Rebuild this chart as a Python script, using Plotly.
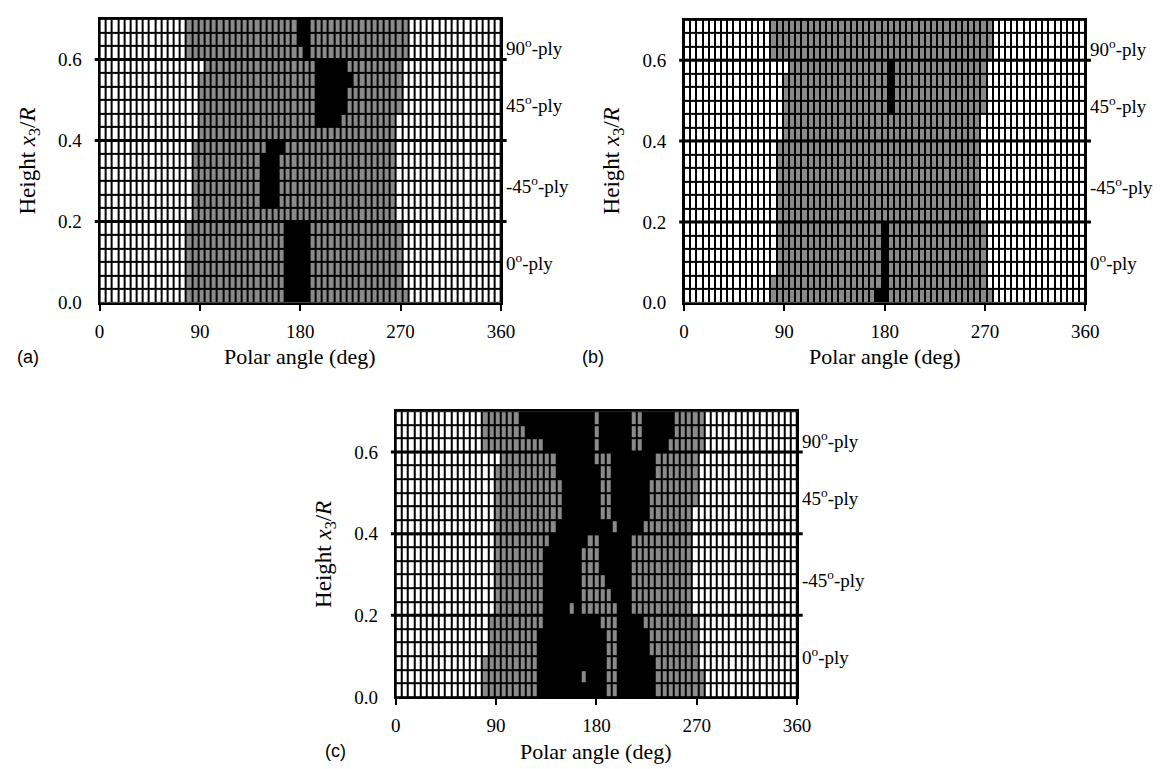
import plotly.graph_objects as go

W, H = 1173, 769

# ---------------- data ----------------
n_cols = 65            # circumferential elements (0..360 deg)
n_rows = 21            # through-thickness elements (0..0.7)
angle_ticks = [0, 90, 180, 270, 360]
height_ticks = [0.0, 0.2, 0.4, 0.6]
height_ticktext = ["0.0", "0.2", "0.4", "0.6"]
ply_bounds = [0.2, 0.4, 0.6]
ply_names = ["0<sup>o</sup>-ply", "-45<sup>o</sup>-ply", "45<sup>o</sup>-ply", "90<sup>o</sup>-ply"]
ply_label_y = [0.10, 0.29, 0.49, 0.63]
panel_tags = ["(a)", "(b)", "(c)"]

# per element row (bottom row 0 -> top row 20): gray span [first, last] element index
a_gray = [(14, 49), (14, 48), (14, 48), (14, 48), (14, 48), (14, 48),
          (15, 47), (15, 47), (15, 47), (15, 47), (15, 47), (15, 47),
          (16, 47), (16, 47), (16, 48), (16, 48), (16, 48), (17, 48),
          (14, 49), (14, 49), (14, 49)]
# black (failed) element runs per row
a_black = [[(30, 33)], [(30, 33)], [(30, 33)], [(30, 33)], [(30, 33)], [(30, 33)],
           [], [(26, 28)], [(26, 28)], [(26, 28)], [(26, 28)], [(27, 29)],
           [], [(35, 38)], [(35, 39)], [(35, 39)], [(35, 40)], [(35, 39)],
           [(33, 33)], [(32, 33)], [(32, 33)]]

b_gray = [(14, 49), (14, 48), (15, 48), (15, 48), (15, 48), (15, 48),
          (15, 47), (15, 47), (15, 47), (15, 47), (15, 47), (15, 47),
          (16, 47), (16, 47), (16, 48), (16, 48), (16, 48), (17, 48),
          (14, 49), (14, 49), (14, 49)]
b_black = [[(31, 32)], [(32, 32)], [(32, 32)], [(32, 32)], [(32, 32)], [(32, 32)],
           [], [], [], [], [], [],
           [], [], [(33, 33)], [(33, 33)], [(33, 33)], [(33, 33)],
           [], [], []]

c_gray = [(14, 49), (14, 49), (14, 48), (15, 48), (15, 48), (15, 48),
          (16, 47), (16, 47), (16, 47), (16, 47), (16, 47), (16, 47),
          (16, 47), (16, 47), (16, 48), (16, 48), (16, 48), (17, 48),
          (14, 49), (14, 49), (14, 49)]
c_black = [[(23, 33), (36, 41)],
           [(23, 29), (31, 33), (36, 41)],
           [(23, 33), (36, 41)],
           [(23, 33), (36, 40)],
           [(23, 33), (36, 40)],
           [(24, 32), (36, 39)],
           [(24, 27), (29, 29), (36, 37)],
           [(24, 29), (35, 37)],
           [(24, 29), (34, 37)],
           [(24, 29), (33, 37)],
           [(24, 29), (33, 37)],
           [(25, 30), (33, 37)],
           [(26, 34), (36, 39)],
           [(27, 32), (35, 40)],
           [(27, 32), (35, 40)],
           [(27, 32), (35, 40)],
           [(26, 32), (35, 41)],
           [(26, 31), (35, 41)],
           [(24, 31), (33, 37), (40, 43)],
           [(21, 31), (33, 37), (40, 44)],
           [(20, 31), (33, 37), (40, 44)]]

# ---------------- layout geometry (pixels) ----------------
panels = [
    dict(gray=a_gray, black=a_black, x0=88, x1=496, ytop=11, ybot=299, tag=(15, 354)),
    dict(gray=b_gray, black=b_black, x0=682, x1=1090, ytop=12, ybot=299, tag=(590, 354)),
    dict(gray=c_gray, black=c_black, x0=389, x1=797, ytop=409, ybot=699, tag=(328, 754)),
]

x_centers = [(c + 0.5) * 360.0 / n_cols for c in range(n_cols)]
y_centers = [(r + 0.5) * 0.7 / n_rows for r in range(n_rows)]

GRAY = "#8a8a8a"
cscale = [[0, "#ffffff"], [0.333, "#ffffff"], [0.334, GRAY], [0.666, GRAY],
          [0.667, "#000000"], [1, "#000000"]]

SERIF = "Liberation Serif"
fig = go.Figure()
annotations = []
shapes = []

for i, p in enumerate(panels):
    z = []
    for r in range(n_rows):
        row = [0] * n_cols
        g0, g1 = p["gray"][r]
        for c in range(g0, g1 + 1):
            row[c] = 1
        for (k0, k1) in p["black"][r]:
            for c in range(k0, k1 + 1):
                row[c] = 2
        z.append(row)
    sfx = "" if i == 0 else str(i + 1)
    fig.add_trace(go.Heatmap(
        z=z, x=x_centers, y=y_centers, zmin=0, zmax=2, colorscale=cscale,
        showscale=False, xgap=2, ygap=2, hoverinfo="skip",
        xaxis="x" + sfx, yaxis="y" + sfx))

    xd = [p["x0"] / W, p["x1"] / W]
    yd = [1 - p["ybot"] / H, 1 - p["ytop"] / H]
    fig.layout["xaxis" + sfx] = dict(
        domain=xd, range=[0, 360], anchor="y" + sfx,
        tickvals=angle_ticks, ticks="outside", ticklen=6, tickwidth=2, tickcolor="black",
        showline=True, linecolor="black", linewidth=2, mirror=True,
        showgrid=False, zeroline=False, ticklabelstandoff=4,
        tickfont=dict(family=SERIF, size=19, color="black"))
    fig.layout["yaxis" + sfx] = dict(
        domain=yd, range=[0, 0.7], anchor="x" + sfx,
        tickvals=height_ticks, ticktext=height_ticktext, ticks="",
        showline=True, linecolor="black", linewidth=2, mirror=True,
        showgrid=False, zeroline=False, ticklabelstandoff=12,
        tickfont=dict(family=SERIF, size=19, color="black"))

    xr = "x" + sfx
    yr = "y" + sfx
    for yb in ply_bounds:
        shapes.append(dict(type="line", xref=xr + " domain", yref=yr,
                           x0=-0.012, x1=1.014, y0=yb, y1=yb,
                           line=dict(color="black", width=3)))
    for name, yl in zip(ply_names, ply_label_y):
        annotations.append(dict(text=name, xref=xr + " domain", yref=yr,
                                x=1.0, y=yl, xanchor="left", yanchor="middle",
                                xshift=3, showarrow=False,
                                font=dict(family=SERIF, size=19, color="black")))
    # axis titles
    annotations.append(dict(text="Height <i>x</i><sub>3</sub>/<i>R</i>",
                            xref="paper", yref="paper",
                            x=(p["x0"] - 72) / W, y=1 - (p["ytop"] + p["ybot"]) / 2 / H,
                            textangle=-90, showarrow=False,
                            xanchor="center", yanchor="middle",
                            font=dict(family=SERIF, size=23, color="black")))
    annotations.append(dict(text="Polar angle (deg)", xref="paper", yref="paper",
                            x=(p["x0"] + p["x1"]) / 2 / W, y=1 - (p["ybot"] + 55) / H,
                            showarrow=False, xanchor="center", yanchor="middle",
                            font=dict(family=SERIF, size=22, color="black")))
    tx, ty = p["tag"]
    annotations.append(dict(text=panel_tags[i], xref="paper", yref="paper",
                            x=tx / W, y=1 - ty / H, showarrow=False,
                            xanchor="center", yanchor="middle",
                            font=dict(family="Liberation Sans", size=18, color="black")))

fig.update_layout(
    width=W, height=H, margin=dict(l=0, r=0, t=0, b=0),
    paper_bgcolor="white", plot_bgcolor="black",
    showlegend=False, shapes=shapes, annotations=annotations)

fig.write_html("out.html")
